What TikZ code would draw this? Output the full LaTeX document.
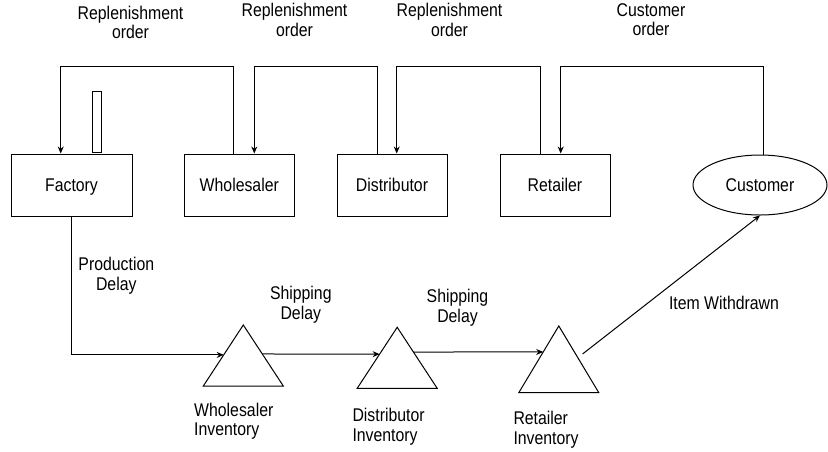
\documentclass[tikz,border=0pt]{standalone}
\usepackage{fontspec}
\setmainfont{Liberation Sans}[FakeStretch=0.86]
\usetikzlibrary{shapes.geometric,arrows.meta,calc}
\begin{document}
\begin{tikzpicture}[x=1pt,y=-1pt,
  every node/.style={font=\fontsize{18.4}{19.5}\selectfont, inner sep=0pt},
  boxtext/.style={text height=13.2pt, text depth=0pt},
  stage/.style={draw, line width=1pt, minimum height=62pt, boxtext},
  lbl/.style={align=center},
  invlbl/.style={align=left, anchor=west},
  inv/.style={minimum width=80pt, minimum height=61pt, outer sep=0pt},
  link/.style={line width=1pt},
  flow/.style={line width=1pt, -{Stealth[length=7pt,width=6pt]}}
]
\useasboundingbox (0,0) rectangle (828,451);

% supply chain stages
\node[stage, minimum width=121pt] (fac) at (71.5,185) {Factory};
\node[stage, minimum width=110pt] (wh) at (239.3,185) {Wholesaler};
\node[stage, minimum width=110pt] (dis) at (392,185) {Distributor};
\node[stage, minimum width=110pt] (ret) at (555,185) {Retailer};
\node[ellipse, draw, line width=1pt, minimum width=134pt, minimum height=60pt, boxtext] (cust) at (760,185) {Customer};

% order backlog bar above the factory
\node[draw, line width=1pt, minimum width=8.7pt, minimum height=60.6pt] (buf) at (96.7,122) {};

% inventory triangles
\node[inv] (wi) at (243.3,355.5) {};
\node[inv] (di) at (397.2,357.8) {};
\node[inv, minimum height=66.7pt] (ri) at (558.8,359.3) {};
\foreach \t in {wi,di,ri}
  \draw[link] (\t.south west) -- (\t.south east) -- (\t.north) -- cycle;

% order flow (upstream)
\coordinate (top) at (0,66);
\coordinate (o1) at ([xshift=-6pt]wh.north);
\coordinate (t1) at ([xshift=-10.8pt]fac.north);
\coordinate (o2) at ([xshift=-14.7pt]dis.north);
\coordinate (t2) at ([xshift=15pt]wh.north);
\coordinate (o3) at ([xshift=-15pt]ret.north);
\coordinate (t3) at ([xshift=4.7pt]dis.north);
\coordinate (o4) at ([xshift=3.5pt]cust.north);
\coordinate (t4) at ([xshift=5.7pt]ret.north);
\draw[flow] (o1) -- (o1 |- top) -| (t1);
\draw[flow] (o2) -- (o2 |- top) -| (t2);
\draw[flow] (o3) -- (o3 |- top) -| (t3);
\draw[flow] (o4) -- (o4 |- top) -| (t4);

% material flow (downstream)
\draw[flow] (fac.south) |- ($(wi.north)!0.49!(wi.south west)$);
\draw[flow] ($(wi.north)!0.475!(wi.south east)$) -- ($(di.north)!0.44!(di.south west)$);
\draw[flow] ($(di.north)!0.405!(di.south east)$) -- ($(ri.north)!0.39!(ri.south west)$);
\draw[flow] ($(ri.north)!0.42!(ri.south east)+(7,0)$) -- (cust.south);

% labels
\node[lbl] (rl1) at (130.5,22.4) {Replenishment\\order};
\node[lbl] (rl2) at (294.5,19.7) {Replenishment\\order};
\node[lbl] (rl3) at (449.5,19.9) {Replenishment\\order};
\node[lbl] (col) at (651,19.9) {Customer\\order};
\node[lbl] (pd) at (116.3,275.6) {Production\\Delay};
\node[lbl] (sd1) at (300.8,304.5) {Shipping\\Delay};
\node[lbl] (sd2) at (457.5,307.9) {Shipping\\Delay};
\node[boxtext] (iw) at (724,302.6) {Item Withdrawn};
\node[invlbl] (wil) at (194,421) {Wholesaler\\Inventory};
\node[invlbl] (dil) at (352.3,426.7) {Distributor\\Inventory};
\node[invlbl] (ril) at (513.3,429.8) {Retailer\\Inventory};
\end{tikzpicture}
\end{document}
